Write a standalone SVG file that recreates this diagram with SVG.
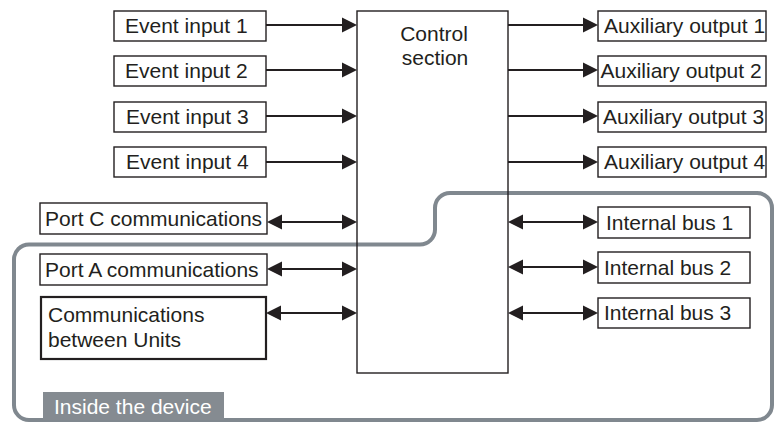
<svg xmlns="http://www.w3.org/2000/svg" width="774" height="422" viewBox="0 0 774 422">
<style>
.t{font-family:"Liberation Sans",Arial,sans-serif;font-size:21px;fill:#231f20}
.w{font-family:"Liberation Sans",Arial,sans-serif;font-size:21px;fill:#ffffff}
.box{fill:#ffffff;stroke:#231f20;stroke-width:1.4}
.bold{fill:#ffffff;stroke:#231f20;stroke-width:2.2}
.ln{stroke:#231f20;stroke-width:2.2;fill:none}
.one{marker-end:url(#ah)}
.two{marker-start:url(#ah);marker-end:url(#ah)}
</style>
<defs>
<marker id="ah" markerUnits="userSpaceOnUse" markerWidth="16" markerHeight="16" refX="11" refY="8" orient="auto-start-reverse" viewBox="0 0 16 16">
<path d="M0,0.5 L15,8 L0,15.5 z" fill="#231f20"/>
</marker>
</defs>
<rect width="774" height="422" fill="#ffffff"/>
<g id="device-boundary">
<path d="M29,244.5 H420 A15,15 0 0 0 435,229.5 V208 A15,15 0 0 1 450,193 H757 A15,15 0 0 1 772,208 V405 A15,15 0 0 1 757,420 H29 A15,15 0 0 1 14,405 V259.5 A15,15 0 0 1 29,244.5 Z" fill="none" stroke="#80888f" stroke-width="4"/>
<rect x="43" y="392" width="181" height="28" fill="#858b91"/>
<text class="w" x="54" y="414">Inside the device</text>
</g>
<g id="control-section">
<rect x="357" y="11" width="151" height="362" fill="none" stroke="#231f20" stroke-width="1.4"/>
<text class="t" x="434" y="41" text-anchor="middle">Control</text>
<text class="t" x="435" y="65" text-anchor="middle">section</text>
</g>
<g id="event-input-1"><rect class="box" x="114" y="11" width="152" height="30"/><text class="t" x="125" y="33">Event input 1</text></g>
<g id="event-input-2"><rect class="box" x="114" y="56" width="152" height="30"/><text class="t" x="125" y="78">Event input 2</text></g>
<g id="event-input-3"><rect class="box" x="114" y="102" width="152" height="30"/><text class="t" x="126" y="124">Event input 3</text></g>
<g id="event-input-4"><rect class="box" x="114" y="147" width="152" height="30"/><text class="t" x="126" y="169">Event input 4</text></g>
<g id="aux-output-1"><rect class="box" x="598" y="11" width="168" height="30"/><text class="t" x="604" y="33">Auxiliary output 1</text></g>
<g id="aux-output-2"><rect class="box" x="598" y="56" width="168" height="30"/><text class="t" x="600.5" y="78">Auxiliary output 2</text></g>
<g id="aux-output-3"><rect class="box" x="598" y="102" width="168" height="30"/><text class="t" x="603" y="124">Auxiliary output 3</text></g>
<g id="aux-output-4"><rect class="box" x="598" y="147" width="168" height="30"/><text class="t" x="604" y="169">Auxiliary output 4</text></g>
<g id="port-c"><rect class="box" x="40" y="203" width="227" height="31"/><text class="t" x="45" y="226">Port C communications</text></g>
<g id="port-a"><rect class="box" x="40" y="254" width="227" height="31"/><text class="t" x="45" y="277">Port A communications</text></g>
<g id="comm-units"><rect class="bold" x="41" y="297" width="225" height="62"/><text class="t" x="48" y="322">Communications</text><text class="t" x="48" y="347">between Units</text></g>
<g id="internal-bus-1"><rect class="box" x="598" y="207" width="152" height="31"/><text class="t" x="606" y="230">Internal bus 1</text></g>
<g id="internal-bus-2"><rect class="box" x="598" y="252" width="152" height="31"/><text class="t" x="604" y="275">Internal bus 2</text></g>
<g id="internal-bus-3"><rect class="box" x="598" y="298" width="152" height="30"/><text class="t" x="604" y="320">Internal bus 3</text></g>
<g id="connectors">
<line class="ln one" x1="266" y1="25" x2="353" y2="25"/>
<line class="ln one" x1="266" y1="70" x2="353" y2="70"/>
<line class="ln one" x1="266" y1="116" x2="353" y2="116"/>
<line class="ln one" x1="266" y1="162" x2="353" y2="162"/>
<line class="ln one" x1="508" y1="25" x2="594" y2="25"/>
<line class="ln one" x1="508" y1="70" x2="594" y2="70"/>
<line class="ln one" x1="508" y1="116" x2="594" y2="116"/>
<line class="ln one" x1="508" y1="162" x2="594" y2="162"/>
<line class="ln two" x1="271" y1="222" x2="353" y2="222"/>
<line class="ln two" x1="271" y1="269" x2="353" y2="269"/>
<line class="ln two" x1="270" y1="313" x2="353" y2="313"/>
<line class="ln two" x1="512" y1="222" x2="594" y2="222"/>
<line class="ln two" x1="512" y1="267" x2="594" y2="267"/>
<line class="ln two" x1="512" y1="313" x2="594" y2="313"/>
</g>
</svg>
